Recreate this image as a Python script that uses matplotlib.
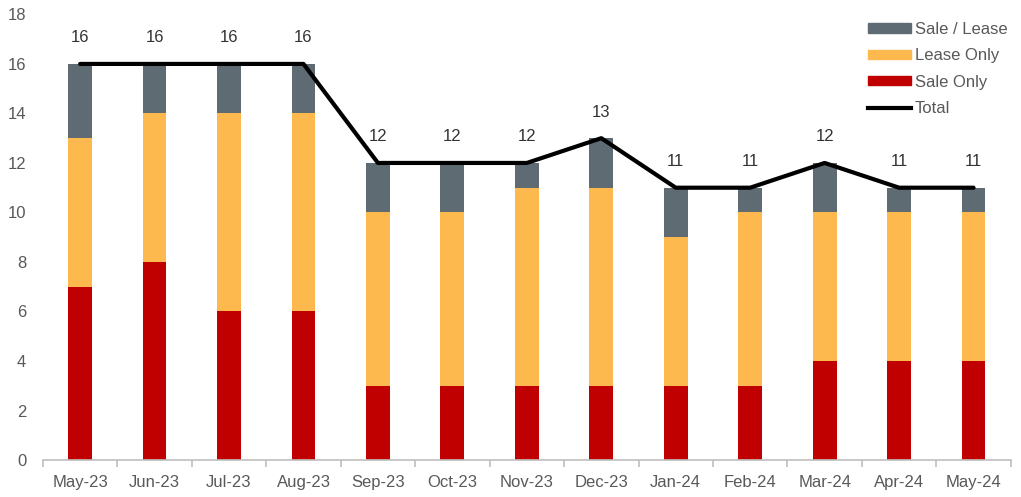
import matplotlib
matplotlib.use('agg')
import matplotlib.pyplot as plt
from matplotlib.patches import Patch
from matplotlib.lines import Line2D

# Data
months = ["May-23", "Jun-23", "Jul-23", "Aug-23", "Sep-23", "Oct-23", "Nov-23",
          "Dec-23", "Jan-24", "Feb-24", "Mar-24", "Apr-24", "May-24"]
sale_only = [7, 8, 6, 6, 3, 3, 3, 3, 3, 3, 4, 4, 4]
lease_only = [6, 6, 8, 8, 7, 7, 8, 8, 6, 7, 6, 6, 6]
sale_lease = [3, 2, 2, 2, 2, 2, 1, 2, 2, 1, 2, 1, 1]
total = [16, 16, 16, 16, 12, 12, 12, 13, 11, 11, 12, 11, 11]

red = "#c00000"
yellow = "#fdb94e"
grey = "#5f6b73"
text_grey = "#595959"

fig = plt.figure(figsize=(10.21, 4.97), dpi=100)
ax = fig.add_axes([0.042, 0.0744, 0.948, 0.8966])

x = list(range(len(months)))
w = 0.32
bottom2 = [a + b for a, b in zip(sale_only, lease_only)]
ax.bar(x, sale_only, w, color=red, zorder=2)
ax.bar(x, lease_only, w, bottom=sale_only, color=yellow, zorder=2)
ax.bar(x, sale_lease, w, bottom=bottom2, color=grey, zorder=2)
ax.plot(x, total, color="black", linewidth=3, zorder=3, solid_capstyle="round")

# value labels above the total line
for xi, t in zip(x, total):
    ax.text(xi, t + 1.05, str(t), ha="center", va="center", fontsize=12,
            color="#333333", family="Liberation Sans")

ax.set_xlim(-0.5, len(months) - 0.5)
ax.set_ylim(0, 18)
ax.set_yticks(range(0, 19, 2))
ax.set_xticks(x)
ax.set_xticklabels(months)
ax.set_xticks([i - 0.5 for i in range(len(months) + 1)], minor=True)

for s in ["top", "right", "left"]:
    ax.spines[s].set_visible(False)
ax.spines["bottom"].set_color("#bfbfbf")
ax.spines["bottom"].set_linewidth(1.2)
ax.tick_params(axis="x", which="major", length=0, pad=11)
ax.tick_params(axis="x", which="minor", length=5, color="#bfbfbf", width=1.2)
ax.tick_params(axis="y", length=0, pad=12)
for lab in ax.get_xticklabels() + ax.get_yticklabels():
    lab.set_fontsize(12)
    lab.set_color(text_grey)
    lab.set_family("Liberation Sans")

handles = [Patch(color=grey, label="Sale / Lease"),
           Patch(color=yellow, label="Lease Only"),
           Patch(color=red, label="Sale Only"),
           Line2D([0], [0], color="black", linewidth=3, label="Total")]
leg = ax.legend(handles=handles, loc="upper right", bbox_to_anchor=(1.012, 1.017),
                frameon=False, handlelength=2.6, handleheight=0.5,
                handletextpad=0.2, labelspacing=0.68,
                prop={"family": "Liberation Sans", "size": 12})
for t in leg.get_texts():
    t.set_color(text_grey)

fig.savefig("out.png", dpi=100)
